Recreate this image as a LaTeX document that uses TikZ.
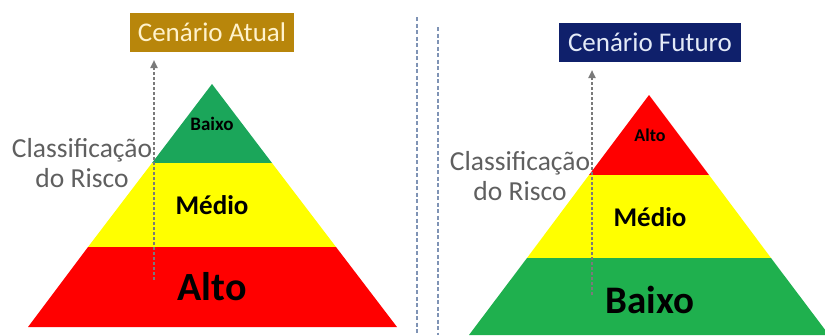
\documentclass[tikz,border=0pt]{standalone}
\usepackage{fontspec}
\setmainfont{Carlito}
\usetikzlibrary{arrows.meta}

\definecolor{lowgreen}{HTML}{1BA65A}
\definecolor{lowgreenb}{HTML}{1FB04E}
\definecolor{midyellow}{HTML}{FFFF00}
\definecolor{highred}{HTML}{FF0000}
\definecolor{atualgold}{HTML}{B8860B}
\definecolor{atualtext}{HTML}{FFF2CC}
\definecolor{futuronavy}{HTML}{0F206B}
\definecolor{futurotext}{HTML}{E3EAF7}
\definecolor{labelgray}{HTML}{5F5F5F}
\definecolor{arrowgray}{HTML}{7A7A7A}
\definecolor{dividerblue}{HTML}{7F93B5}

\begin{document}
\begin{tikzpicture}[x=1pt,y=-1pt,>={Triangle[length=8pt,width=7pt]},
    scenario/.style={inner sep=0pt,minimum height=39pt,font=\fontsize{27}{27}\selectfont},
    level/.style={font=\bfseries\fontsize{#1}{#1}\selectfont},
    riskarrow/.style={->,draw=arrowgray,line width=2.6pt,dash pattern=on 2.6pt off 2.4pt},
    axislabel/.style={align=center,text=labelgray,font=\fontsize{27.5}{30}\selectfont},
    divider/.style={draw=dividerblue,line width=1.8pt,dash pattern=on 4pt off 2.5pt}]
    \useasboundingbox (0,0) rectangle (825,335);

    % cenario atual
    \fill[lowgreen] (212,84) -- (272,163) -- (152,163) -- cycle;
    \fill[midyellow] (152,163) -- (272,163) -- (336,247) -- (88,247) -- cycle;
    \fill[highred] (88,247) -- (336,247) -- (397,327) -- (28,327) -- cycle;
    \node[level=19] (lbaixo) at (212,124) {Baixo};
    \node[level=27] (lmedio) at (212,205) {Médio};
    \node[level=40] (lalto) at (212,287) {Alto};

    \node[scenario,fill=atualgold,text=atualtext,minimum width=164pt] (atual) at (212,32.5) {Cenário Atual};
    \coordinate (la0) at (154,280);
    \coordinate (la1) at (154,60);
    \draw[riskarrow] (la0) -- (la1);
    \node[axislabel] (lclass) at (82,163) {Classificação\\do Risco};

    % separadores
    \coordinate (d1a) at (417,17);
    \coordinate (d1b) at (417,335);
    \coordinate (d2a) at (438,27);
    \coordinate (d2b) at (438,335);
    \draw[divider] (d1a) -- (d1b);
    \draw[divider] (d2a) -- (d2b);

    % cenario futuro
    \begin{scope}
        \clip (440,0) rectangle (825,335);
        \fill[highred] (649,95) -- (709,175) -- (589,175) -- cycle;
        \fill[midyellow] (589,175) -- (709,175) -- (771,258) -- (527,258) -- cycle;
        \fill[lowgreenb] (527,258) -- (771,258) -- (829,335) -- (469,335) -- cycle;
    \end{scope}
    \node[level=18] (ralto) at (650,135) {Alto};
    \node[level=27] (rmedio) at (650,217) {Médio};
    \node[level=39] (rbaixo) at (650,300) {Baixo};

    \node[scenario,fill=futuronavy,text=futurotext,minimum width=182pt] (futuro) at (650,42.5) {Cenário Futuro};
    \coordinate (ra0) at (592,295);
    \coordinate (ra1) at (592,70);
    \draw[riskarrow] (ra0) -- (ra1);
    \node[axislabel] (rclass) at (520,176.5) {Classificação\\do Risco};
\end{tikzpicture}
\end{document}
